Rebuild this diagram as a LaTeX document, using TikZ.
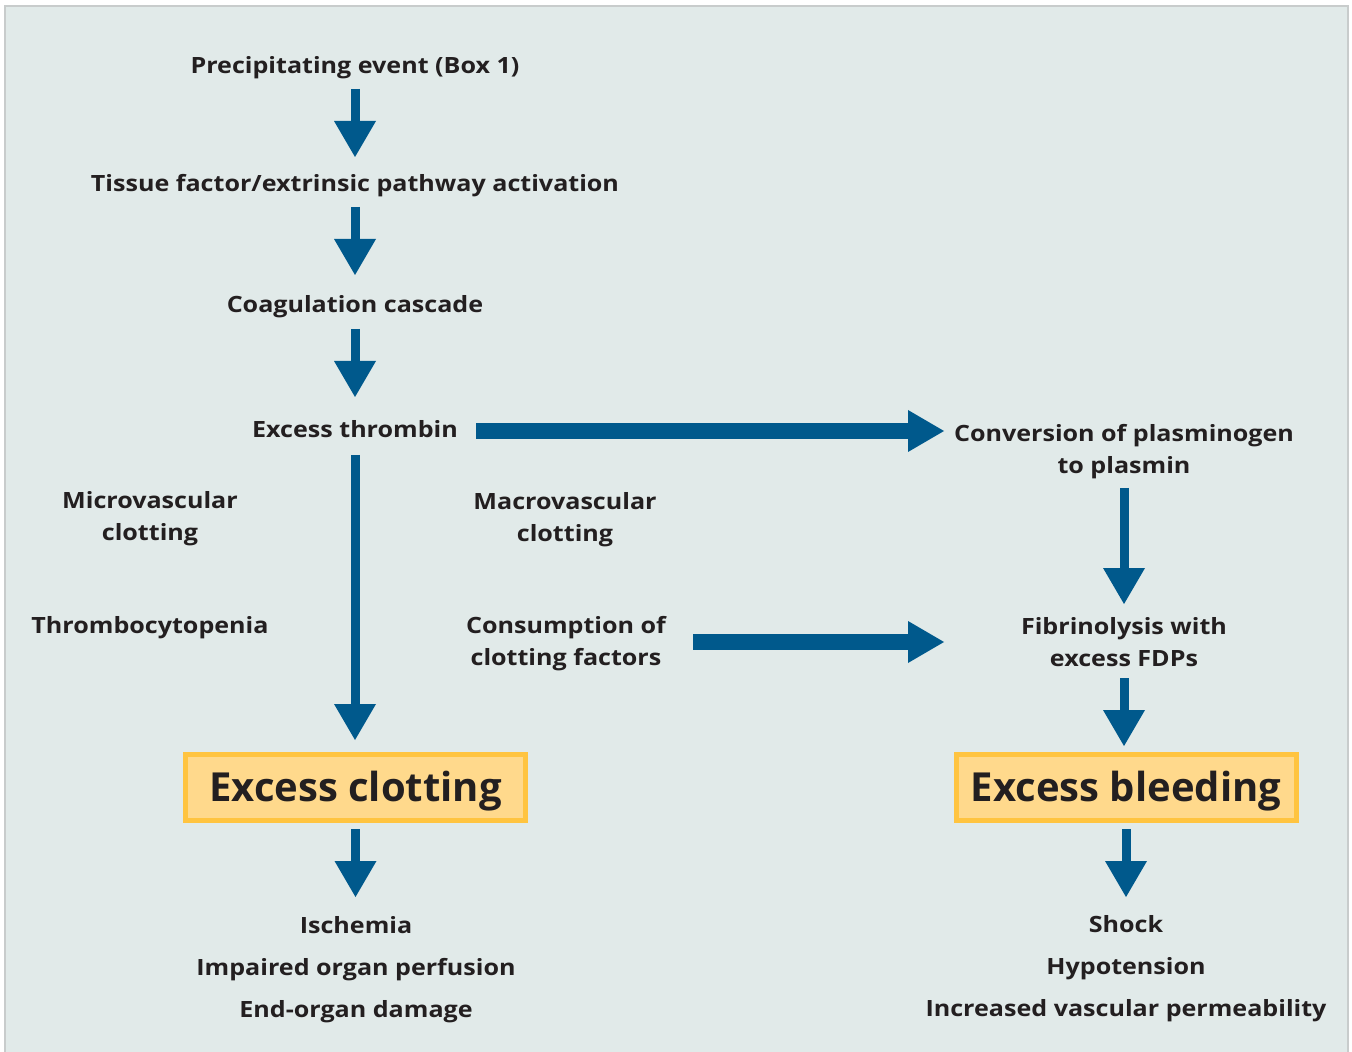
\documentclass[tikz,border=0pt]{standalone}
\usepackage{fontspec}
\setmainfont{Open Sans}[FakeStretch=1.12]
\newfontfamily\boxfont{Open Sans}
\usepackage{xcolor}
\usetikzlibrary{arrows.meta}
\usetikzlibrary{positioning}

\definecolor{panelfill}{HTML}{E1EAE9}
\definecolor{panelline}{HTML}{C8CCCC}
\definecolor{arrowblue}{HTML}{00598C}
\definecolor{boxfill}{HTML}{FFD98C}
\definecolor{boxline}{HTML}{FFC440}
\definecolor{textdark}{HTML}{231F20}

\begin{document}
\begin{tikzpicture}[x=0.5pt,y=-0.5pt,
		lbl/.style={text=textdark,font=\fontsize{11.2}{16}\selectfont\bfseries,align=center,inner sep=0pt},
		fx/.style={lbl,font=\fontsize{11.2}{21}\selectfont\bfseries},
		bigbox/.style={draw=boxline,line width=2.5pt,fill=boxfill,minimum width=170pt,minimum height=33pt,inner sep=0pt,text height=14.3pt,text depth=0pt,text=textdark,font=\boxfont\fontsize{20}{22}\selectfont\bfseries},
		vflow/.style={arrowblue,line width=4.5pt,-{Triangle[length=18pt,width=21pt,line width=0pt]}},
		hflow/.style={arrowblue,line width=8pt,-{Triangle[length=18pt,width=21pt,line width=0pt]}}]
			\useasboundingbox (0,0) rectangle (1352,1052);
			\draw[fill=panelfill,draw=panelline,line width=0.75pt] (5,6) rectangle (1348,1060);

			\node[lbl] (prec) at (355,68) {Precipitating event (Box 1)};
			\node[lbl] (tissue) at (355,186) {Tissue factor/extrinsic pathway activation};
			\node[lbl] (coag) at (355,307) {Coagulation cascade};
			\node[lbl] (thrombin) at (355,429) {Excess thrombin};
			\node[lbl] (conv) at (1124,452) {Conversion of plasminogen\\to plasmin};
			\node[lbl] (micro) at (150,519) {Microvascular\\clotting};
			\node[lbl] (macro) at (565,520) {Macrovascular\\clotting};
			\node[lbl] (thrombo) at (150,628) {Thrombocytopenia};
			\node[lbl] (consum) at (566,644) {Consumption of\\clotting factors};
			\node[lbl] (fibrin) at (1124,642) {Fibrinolysis with\\excess FDPs};
			\node[bigbox] (clotbox) at (355.5,787.5) {Excess clotting};
			\node[bigbox] (bleedbox) at (1126,787) {Excess bleeding};
			\node[fx] (clotfx) at (356,970) {Ischemia\\Impaired organ perfusion\\End-organ damage};
			\node[fx] (bleedfx) at (1126,969) {Shock\\Hypotension\\Increased vascular permeability};

			\draw[vflow,shorten <=10.5pt,shorten >=14.5pt] (prec.center) -- (tissue.center);
			\draw[vflow,shorten <=10.5pt,shorten >=16pt] (tissue.center) -- (coag.center);
			\draw[vflow,shorten <=11pt,shorten >=16pt] (coag.center) -- (thrombin.center);
			\draw[vflow,shorten <=13pt,shorten >=23.75pt] (thrombin.center) -- (thrombin.center |- clotbox.center);
			\draw[hflow,shorten <=60.5pt,shorten >=90pt] ([yshift=-1pt]thrombin.center) -- ([yshift=-1pt]thrombin.center -| conv.center);
			\draw[vflow,shorten <=18pt,shorten >=19pt] (conv.center) -- (fibrin.center);
			\draw[hflow,shorten <=63.5pt,shorten >=90pt] (fibrin.center -| consum.center) -- (fibrin.center);
			\draw[vflow,shorten <=18pt,shorten >=20.5pt] (fibrin.center) -- (fibrin.center |- bleedbox.center);
			\draw[vflow,shorten <=20.75pt,shorten >=36.5pt] (clotbox.center) -- (clotbox.center |- clotfx.center);
			\draw[vflow,shorten <=21pt,shorten >=36pt] (bleedbox.center) -- (bleedbox.center |- bleedfx.center);
		\end{tikzpicture}
\end{document}
